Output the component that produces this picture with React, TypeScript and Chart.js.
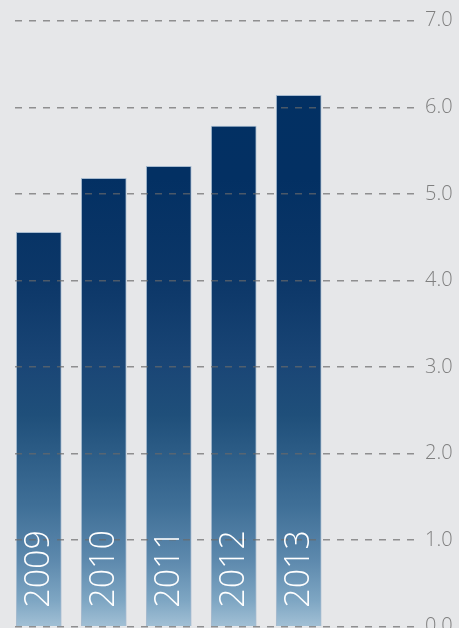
import React, { useEffect, useRef } from "react";
import { Chart, registerables } from "chart.js";

Chart.register(...registerables);

const years = ["2009", "2010", "2011", "2012", "2013"];
const values = [4.556, 5.18, 5.318, 5.784, 6.138];
const yTicks = [0, 1, 2, 3, 4, 5, 6, 7];

const gradientStops: [number, string][] = [
  [0, "#a2c0d5"],
  [0.043, "#7ea6c3"],
  [0.11, "#5d89ad"],
  [0.2, "#3f6f97"],
  [0.349, "#1f4f7a"],
  [0.43, "#1a4676"],
  [0.57, "#0c3768"],
  [0.74, "#033063"],
  [1, "#023063"],
];

const yearLabelPlugin = {
  id: "yearLabels",
  afterDraw(chart: any) {
    const ctx = chart.ctx;
    const meta = chart.getDatasetMeta(0);
    const yScale = chart.scales.y;
    const base = yScale.getPixelForValue(0);
    ctx.save();
    ctx.fillStyle = "#ffffff";
    ctx.font = '300 34px "Open Sans"';
    ctx.textAlign = "left";
    ctx.textBaseline = "middle";
    meta.data.forEach((bar: any, i: number) => {
      ctx.save();
      ctx.translate(bar.x + 1, base - 19);
      ctx.rotate(-Math.PI / 2);
      ctx.fillText(years[i], 0, 0);
      ctx.restore();
    });
    ctx.restore();
  },
};

export default function App() {
  const ref = useRef<HTMLCanvasElement | null>(null);

  useEffect(() => {
    if (!ref.current) return;
    const chart = new Chart(ref.current, {
      type: "bar",
      data: {
        datasets: [
          {
            data: values.map((v, i) => ({ x: i, y: v })),
            barThickness: 45,
            borderWidth: 1,
            borderColor: "rgba(150,175,200,0.8)",
            borderSkipped: "bottom",
            backgroundColor: (c: any) => {
              const ch = c.chart;
              const ys = ch.scales && ch.scales.y;
              if (!ch.chartArea || !ys) return "#023063";
              const g = ch.ctx.createLinearGradient(
                0,
                ys.getPixelForValue(0),
                0,
                ys.getPixelForValue(7)
              );
              gradientStops.forEach(([o, col]) => g.addColorStop(o, col));
              return g;
            },
          },
        ],
      },
      options: {
        responsive: false,
        animation: false,
        devicePixelRatio: 1,
        layout: { padding: { left: 15, top: 20.7, bottom: 1.3, right: 0 } },
        plugins: { legend: { display: false }, tooltip: { enabled: false } },
        scales: {
          x: {
            type: "linear",
            display: false,
            offset: false,
            min: -0.366,
            max: 5.82,
            grid: { display: false, offset: false },
          },
          y: {
            position: "right",
            min: 0,
            max: 7,
            afterBuildTicks: (s: any) => {
              s.ticks = yTicks.map((v) => ({ value: v }));
            },
            afterFit: (s: any) => {
              s.width = 42;
              s.paddingTop = 0;
              s.paddingBottom = 0;
            },
            grid: {
              color: "rgba(105,105,105,0.7)",
              lineWidth: 1.5,
              drawTicks: false,
              z: 1,
            },
            border: { display: false, dash: [7, 7] },
            ticks: {
              padding: 8,
              color: "#7f7f7f",
              font: { family: "Open Sans", size: 20, weight: "300" as any },
              callback: (v: any) => Number(v).toFixed(1),
            },
          },
        },
      },
      plugins: [yearLabelPlugin],
    } as any);
    return () => chart.destroy();
  }, []);

  return (
    <div
      style={{
        position: "fixed",
        left: 0,
        top: 0,
        width: 459,
        height: 628,
        background: "#e6e7e9",
      }}
    >
      <canvas ref={ref} width={459} height={628} style={{ display: "block" }} />
    </div>
  );
}
